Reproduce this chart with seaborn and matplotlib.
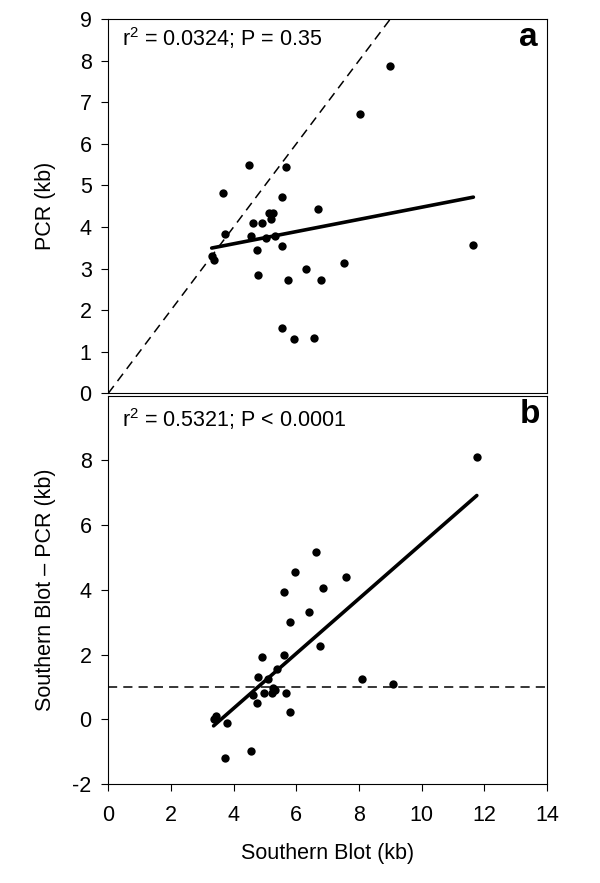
import numpy as np
import pandas as pd
import matplotlib
matplotlib.use("Agg")
import matplotlib.pyplot as plt
import seaborn as sns

# ---- data ----
southern_a = [8.99, 8.04, 4.49, 5.67, 3.66, 5.55, 6.68, 5.14, 5.26, 5.20,
              4.61, 4.91, 3.73, 4.55, 5.03, 5.31, 5.55, 4.73, 11.65, 3.30,
              3.36, 7.51, 6.32, 4.79, 5.73, 6.79, 5.55, 5.91, 6.56]
pcr_a = [7.88, 6.72, 5.48, 5.44, 4.82, 4.73, 4.42, 4.33, 4.33, 4.20,
         4.10, 4.10, 3.84, 3.79, 3.74, 3.79, 3.53, 3.44, 3.57, 3.30,
         3.21, 3.13, 2.99, 2.85, 2.72, 2.72, 1.56, 1.30, 1.34]

southern_b = [11.76, 6.62, 5.97, 7.57, 6.86, 5.61, 6.39, 5.79, 6.74, 4.91,
              5.61, 5.38, 4.79, 5.09, 8.10, 9.10, 5.26, 5.32, 4.61, 4.96,
              5.21, 5.67, 4.73, 5.79, 3.43, 3.36, 3.78, 4.55, 3.73]
diff_b = [8.09, 5.18, 4.56, 4.39, 4.05, 3.93, 3.31, 3.02, 2.28, 1.94,
          1.99, 1.54, 1.31, 1.25, 1.26, 1.09, 0.98, 0.91, 0.74, 0.80,
          0.80, 0.80, 0.51, 0.23, 0.11, 0.00, -0.11, -0.97, -1.19]

stats_a = r"r$^{2}$ = 0.0324; P = 0.35"
stats_b = r"r$^{2}$ = 0.5321; P < 0.0001"
yticks_a = list(range(0, 10))
yticks_b = [-2, 0, 2, 4, 6, 8]
xticks = [0, 2, 4, 6, 8, 10, 12, 14]
ref_level_b = 1.0

df_a = pd.DataFrame({"southern": southern_a, "pcr": pcr_a})
df_b = pd.DataFrame({"southern": southern_b, "diff": diff_b})

sns.set_theme(style="white")
plt.rcParams["font.family"] = ["Liberation Sans", "DejaVu Sans"]
plt.rcParams["axes.unicode_minus"] = False
plt.rcParams["mathtext.fontset"] = "custom"
plt.rcParams["mathtext.rm"] = "Liberation Sans"
plt.rcParams["mathtext.it"] = "Liberation Sans"
plt.rcParams["mathtext.default"] = "regular"
for k in ("text.color", "axes.labelcolor", "xtick.color", "ytick.color"):
    plt.rcParams[k] = "black"

FS = 15.5
fig = plt.figure(figsize=(6, 8.83), dpi=100)
ax_a = fig.add_axes([0.1805, 0.5546, 0.7312, 0.4239])
ax_b = fig.add_axes([0.1805, 0.1121, 0.7312, 0.4398])

dash = (0, (6, 4))

# panel a
ax_a.axline((0, 0), (1, 1), color="black", lw=1.1, ls=dash, zorder=1)
sns.regplot(data=df_a, x="southern", y="pcr", ax=ax_a, scatter=False, ci=None,
            truncate=True, line_kws=dict(color="black", lw=2.6, zorder=2))
sns.scatterplot(data=df_a, x="southern", y="pcr", ax=ax_a, color="black",
                s=36, linewidth=0, zorder=3)

# panel b
ax_b.axhline(ref_level_b, color="black", lw=1.1, ls=dash, zorder=1)
sns.regplot(data=df_b, x="southern", y="diff", ax=ax_b, scatter=False, ci=None,
            truncate=True, line_kws=dict(color="black", lw=2.6, zorder=2))
sns.scatterplot(data=df_b, x="southern", y="diff", ax=ax_b, color="black",
                s=36, linewidth=0, zorder=3)

for ax in (ax_a, ax_b):
    ax.set_xlim(0, 14)
    for sp in ax.spines.values():
        sp.set_color("black")
        sp.set_linewidth(0.8)
        sp.set_visible(True)
    ax.tick_params(axis="y", direction="out", length=5, width=0.8, pad=7,
                   labelsize=FS, left=True, colors="black")

ax_a.set_ylim(0, 9)
ax_a.set_yticks(yticks_a)
ax_a.set_xticks(xticks)
ax_a.tick_params(axis="x", bottom=False, labelbottom=False)
ax_a.set_xlabel("")
ax_a.set_ylabel("PCR (kb)", fontsize=FS)
ax_a.yaxis.set_label_coords(-0.12, 0.5)

ax_b.set_ylim(-2, 10)
ax_b.set_yticks(yticks_b)
ax_b.set_xticks(xticks)
ax_b.tick_params(axis="x", direction="out", length=5, width=0.8, pad=10,
                 labelsize=FS, bottom=True, colors="black")
ax_b.set_xlabel("Southern Blot (kb)", fontsize=FS)
ax_b.xaxis.set_label_coords(0.5, -0.152)
ax_b.set_ylabel("Southern Blot \u2013 PCR (kb)", fontsize=FS)
ax_b.yaxis.set_label_coords(-0.12, 0.5)

ax_a.text(0.0305, 0.9287, stats_a, transform=ax_a.transAxes, fontsize=FS,
          ha="left", va="baseline")
ax_a.text(0.978, 0.9287, "a", transform=ax_a.transAxes, fontsize=24,
          fontweight="bold", ha="right", va="baseline")
ax_b.text(0.0305, 0.920, stats_b, transform=ax_b.transAxes, fontsize=FS,
          ha="left", va="baseline")
ax_b.text(0.984, 0.929, "b", transform=ax_b.transAxes, fontsize=24,
          fontweight="bold", ha="right", va="baseline")

fig.savefig("out.png", dpi=100, facecolor="white")
